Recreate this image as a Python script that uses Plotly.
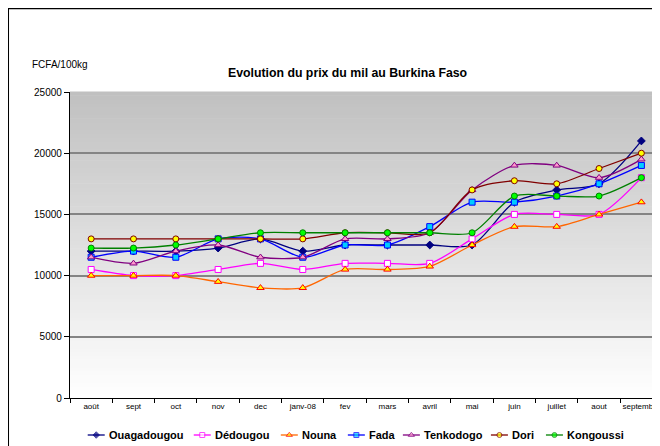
import plotly.graph_objects as go

months = ["août", "sept", "oct", "nov", "dec", "janv-08", "fev", "mars", "avril",
          "mai", "juin", "juillet", "aout", "septembre"]

ouagadougou = [12000, 12000, 12000, 12250, 13000, 12000, 12500, 12500, 12500, 12500, 16000, 17000, 17500, 21000]
dedougou    = [10500, 10000, 10000, 10500, 11000, 10500, 11000, 11000, 11000, 13000, 15000, 15000, 15000, 18000]
nouna       = [10000, 10000, 10000, 9500, 9000, 9000, 10500, 10500, 10750, 12500, 14000, 14000, 15000, 16000]
fada        = [11500, 12000, 11500, 13000, 13000, 11500, 12500, 12500, 14000, 16000, 16000, 16500, 17500, 19000]
tenkodogo   = [11500, 11000, 12000, 12500, 11500, 11500, 13000, 13000, 13500, 17000, 19000, 19000, 18000, 19500]
dori        = [13000, 13000, 13000, 13000, 13000, 13000, 13500, 13500, 13500, 17000, 17750, 17500, 18750, 20000]
kongoussi   = [12250, 12250, 12500, 13000, 13500, 13500, 13500, 13500, 13500, 13500, 16500, 16500, 16500, 18000]

names = ["Ouagadougou", "Dédougou", "Nouna", "Fada", "Tenkodogo", "Dori", "Kongoussi"]
values = [ouagadougou, dedougou, nouna, fada, tenkodogo, dori, kongoussi]

# styles
line_colors = ["#000080", "#FF00FF", "#FF6600", "#0000FF", "#800080", "#800000", "#008000"]
symbols = ["diamond", "square", "triangle-up", "square", "triangle-up", "circle", "circle"]
fill_colors = ["#000080", "#FFFFFF", "#FFFF00", "#00CCFF", "#FF99CC", "#FFFF00", "#00FF00"]
edge_colors = ["#000080", "#FF00FF", "#FF0000", "#0000FF", "#800080", "#800000", "#008000"]
sizes = [6, 6, 6.5, 6, 6.5, 6, 6]

# the page has an 8px body margin: figure origin sits at page (8, 8)
OFF = 8
FIG_W, FIG_H = 660 - OFF, 446 - OFF

# layout in page pixels
legend_sym_x = [88, 194, 281, 348, 403, 491, 546]
legend_y = 435
PAGE_L, PAGE_T, PAGE_BOTTOM = 70.3, 92, 398

L, T = PAGE_L - OFF, PAGE_T - OFF
PLOT_BOTTOM = PAGE_BOTTOM - OFF
PAPER_H = FIG_H - T
main_dom0 = (FIG_H - PLOT_BOTTOM) / PAPER_H

def px(x):  # page x -> paper
    return (x - OFF - L) / (FIG_W - L)

def py(y):  # page y -> paper
    return (FIG_H - (y - OFF)) / PAPER_H

fig = go.Figure()
for name, vals, lc, sym, fc, ec, sz in zip(names, values, line_colors, symbols,
                                           fill_colors, edge_colors, sizes):
    fig.add_trace(go.Scatter(
        x=months, y=vals, name=name, mode="lines+markers", showlegend=False,
        line=dict(color=lc, width=1.3, shape="spline", smoothing=0.8),
        marker=dict(symbol=sym, size=sz, color=fc, line=dict(color=ec, width=1)),
        xaxis="x", yaxis="y",
    ))

# manual legend (x2/y2 axes are in page pixels)
annotations = []
for name, lc, sym, fc, ec, sz, sx in zip(names, line_colors, symbols, fill_colors,
                                         edge_colors, sizes, legend_sym_x):
    fig.add_trace(go.Scatter(
        x=[sx, sx + 8.5, sx + 17], y=[legend_y] * 3, mode="lines+markers",
        showlegend=False, hoverinfo="skip", cliponaxis=False,
        line=dict(color=lc, width=1.3),
        marker=dict(symbol=sym, size=[0, sz - 1, 0], color=fc,
                    line=dict(color=ec, width=1)),
        xaxis="x2", yaxis="y2",
    ))
    annotations.append(dict(text=f"<b>{name}</b>", xref="x2", yref="y2",
                            x=sx + 19.5, y=legend_y, xanchor="left", yanchor="middle",
                            showarrow=False, font=dict(size=11)))

# gradient background (top grey -> bottom white)
shapes = []
n = 80
for i in range(n):
    t = (i + 0.5) / n
    g = int(round(255 - (255 - 192) * t))
    shapes.append(dict(type="rect", xref="x domain", yref="y domain",
                       x0=0, x1=1, y0=i / n, y1=(i + 1) / n + 0.002,
                       fillcolor=f"rgb({g},{g},{g})", line=dict(width=0),
                       layer="below"))

# outer frame
shapes.append(dict(type="rect", xref="paper", yref="paper",
                   x0=px(8.2), x1=px(720), y0=py(8.2), y1=py(480),
                   line=dict(color="black", width=2.3), fillcolor="rgba(0,0,0,0)",
                   layer="above"))

annotations += [
    dict(text="<b>Evolution du prix du mil au Burkina Faso</b>", xref="paper", yref="paper",
         x=px(348), y=py(73), xanchor="center", yanchor="middle", showarrow=False,
         font=dict(size=12.3)),
    dict(text="FCFA/100kg", xref="paper", yref="paper",
         x=px(30), y=py(64), xanchor="left", yanchor="middle", showarrow=False,
         font=dict(size=10)),
]

fig.update_layout(
    width=FIG_W, height=FIG_H,
    margin=dict(l=L, r=0, t=T, b=0, pad=0, autoexpand=False),
    paper_bgcolor="white", plot_bgcolor="white",
    shapes=shapes, annotations=annotations,
    font=dict(family="Arial, Liberation Sans, sans-serif", color="black", size=10),
    showlegend=False,
    xaxis=dict(
        type="category", range=[-0.5, 13.44], tickson="boundaries",
        ticks="outside", ticklen=4, tickcolor="black", tickwidth=1,
        showline=True, linecolor="black", linewidth=1.3, tickangle=0,
        showgrid=False, tickfont=dict(size=8), fixedrange=True, anchor="y",
        domain=[0, 1], ticklabeloverflow="allow",
    ),
    yaxis=dict(
        range=[0, 25000], dtick=5000, tickformat="d",
        ticks="outside", ticklen=5, tickcolor="black", tickwidth=1,
        showline=True, linecolor="black", linewidth=1.3,
        showgrid=True, gridcolor="#848484", gridwidth=1.5, zeroline=False,
        tickfont=dict(size=10), fixedrange=True, domain=[main_dom0, 1], anchor="x",
    ),
    xaxis2=dict(domain=[0, 1], range=[PAGE_L, 660], visible=False, fixedrange=True,
                anchor="y2"),
    yaxis2=dict(domain=[0, main_dom0], range=[446, PAGE_BOTTOM], visible=False,
                fixedrange=True, anchor="x2"),
)

fig.write_html(
    "out.html",
    config={"displayModeBar": False},
    post_script="document.documentElement.style.overflow='hidden';",
)
